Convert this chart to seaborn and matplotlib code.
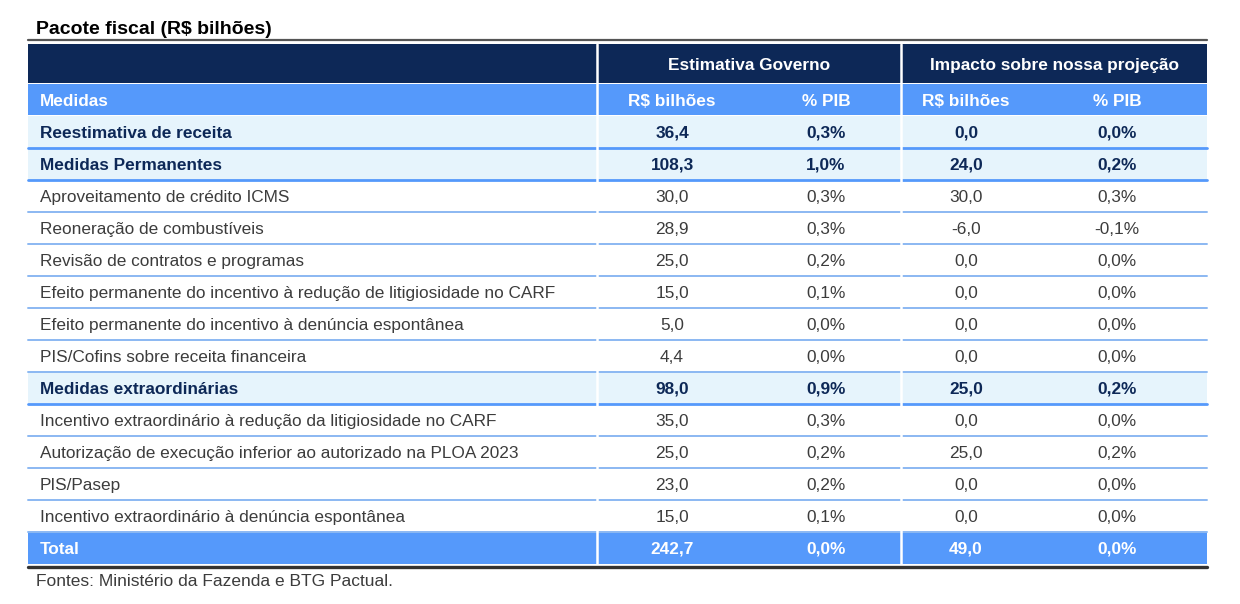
import matplotlib.pyplot as plt
import seaborn as sns
from matplotlib.patches import Rectangle

sns.set_theme(style="white")
plt.rcParams['font.family'] = ['Liberation Sans', 'DejaVu Sans']

# dados da tabela
medidas = [
    'Reestimativa de receita',
    'Medidas Permanentes',
    'Aproveitamento de crédito ICMS',
    'Reoneração de combustíveis',
    'Revisão de contratos e programas',
    'Efeito permanente do incentivo à redução de litigiosidade no CARF',
    'Efeito permanente do incentivo à denúncia espontânea',
    'PIS/Cofins sobre receita financeira',
    'Medidas extraordinárias',
    'Incentivo extraordinário à redução da litigiosidade no CARF',
    'Autorização de execução inferior ao autorizado na PLOA 2023',
    'PIS/Pasep',
    'Incentivo extraordinário à denúncia espontânea',
]
gov_rs = [36.4, 108.3, 30.0, 28.9, 25.0, 15.0, 5.0, 4.4, 98.0, 35.0, 25.0, 23.0, 15.0]
gov_pib = [0.3, 1.0, 0.3, 0.3, 0.2, 0.1, 0.0, 0.0, 0.9, 0.3, 0.2, 0.2, 0.1]
imp_rs = [0.0, 24.0, 30.0, -6.0, 0.0, 0.0, 0.0, 0.0, 25.0, 0.0, 25.0, 0.0, 0.0]
imp_pib = [0.0, 0.2, 0.3, -0.1, 0.0, 0.0, 0.0, 0.0, 0.2, 0.0, 0.2, 0.0, 0.0]
destaque = [True, True, False, False, False, False, False, False, True, False, False, False, False]
total = [242.7, 0.0, 49.0, 0.0]

grupos = ['Estimativa Governo', 'Impacto sobre nossa projeção']
subcols = ['R$ bilhões', '% PIB', 'R$ bilhões', '% PIB']

def fmt(v, pct=False):
    s = f'{v:.1f}'.replace('.', ',')
    return s + '%' if pct else s

navy = '#0d2857'
azul = '#5599fb'
claro = '#e6f4fc'
linha = '#8bb8f2'
cinza = '#3c3c3c'
fs = 12.4

fig = plt.figure(figsize=(12.4, 6.04), dpi=100)
ax = fig.add_axes([0, 0, 1, 1])
ax.set_xlim(0, 1240)
ax.set_ylim(604, 0)
ax.axis('off')

x0, x1 = 28, 1207
sep = [597, 901]
col_x = [672, 826, 966, 1117]
row_h = 32
top = 116

ax.text(36, 27, 'Pacote fiscal (R$ bilhões)', fontsize=14, fontweight='bold',
        color='black', va='center_baseline', ha='left')
ax.plot([x0, x1], [40, 40], color='#555555', lw=1.6)

# cabeçalho 1
ax.add_patch(Rectangle((x0, 44), x1 - x0, 39, color=navy, lw=0))
for i, g in enumerate(grupos):
    xa = sep[i]
    xb = sep[i + 1] if i + 1 < len(sep) else x1
    ax.text((xa + xb) / 2, 64, g, color='white', fontsize=fs, fontweight='bold',
            ha='center', va='center_baseline')

# cabeçalho 2
ax.add_patch(Rectangle((x0, 84), x1 - x0, 31, color=azul, lw=0))
ax.text(40, 100, 'Medidas', color='white', fontsize=fs, fontweight='bold',
        ha='left', va='center_baseline')
for cx, s in zip(col_x, subcols):
    ax.text(cx, 100, s, color='white', fontsize=fs, fontweight='bold',
            ha='center', va='center_baseline')

# linhas de dados
for i, nome in enumerate(medidas):
    y = top + i * row_h
    b = destaque[i]
    if b:
        ax.add_patch(Rectangle((x0, y), x1 - x0, row_h, color=claro, lw=0))
    cor = navy if b else cinza
    peso = 'bold' if b else 'normal'
    yc = y + row_h / 2
    ax.text(40, yc, nome, color=cor, fontsize=fs, fontweight=peso, ha='left', va='center_baseline')
    vals = [fmt(gov_rs[i]), fmt(gov_pib[i], True), fmt(imp_rs[i]), fmt(imp_pib[i], True)]
    for cx, s in zip(col_x, vals):
        ax.text(cx, yc, s, color=cor, fontsize=fs, fontweight=peso, ha='center', va='center_baseline')
    ax.plot([x0, x1], [y + row_h, y + row_h], color=azul if b else linha,
            lw=2.0 if b else 1.4)

# total
yt = top + len(medidas) * row_h
ax.add_patch(Rectangle((x0, yt), x1 - x0, row_h, color=azul, lw=0))
ax.text(40, yt + row_h / 2, 'Total', color='white', fontsize=fs, fontweight='bold',
        ha='left', va='center_baseline')
tv = [fmt(total[0]), fmt(total[1], True), fmt(total[2]), fmt(total[3], True)]
for cx, s in zip(col_x, tv):
    ax.text(cx, yt + row_h / 2, s, color='white', fontsize=fs, fontweight='bold',
            ha='center', va='center_baseline')

# separadores verticais brancos
for sx in sep:
    ax.plot([sx, sx], [44, yt + row_h], color='white', lw=1.8)

ax.plot([x0, x1], [yt + row_h + 3, yt + row_h + 3], color='#333333', lw=2.4)
ax.text(36, 580, 'Fontes: Ministério da Fazenda e BTG Pactual.', color=cinza,
        fontsize=12.5, ha='left', va='center_baseline')

fig.savefig('out.png', dpi=100)
